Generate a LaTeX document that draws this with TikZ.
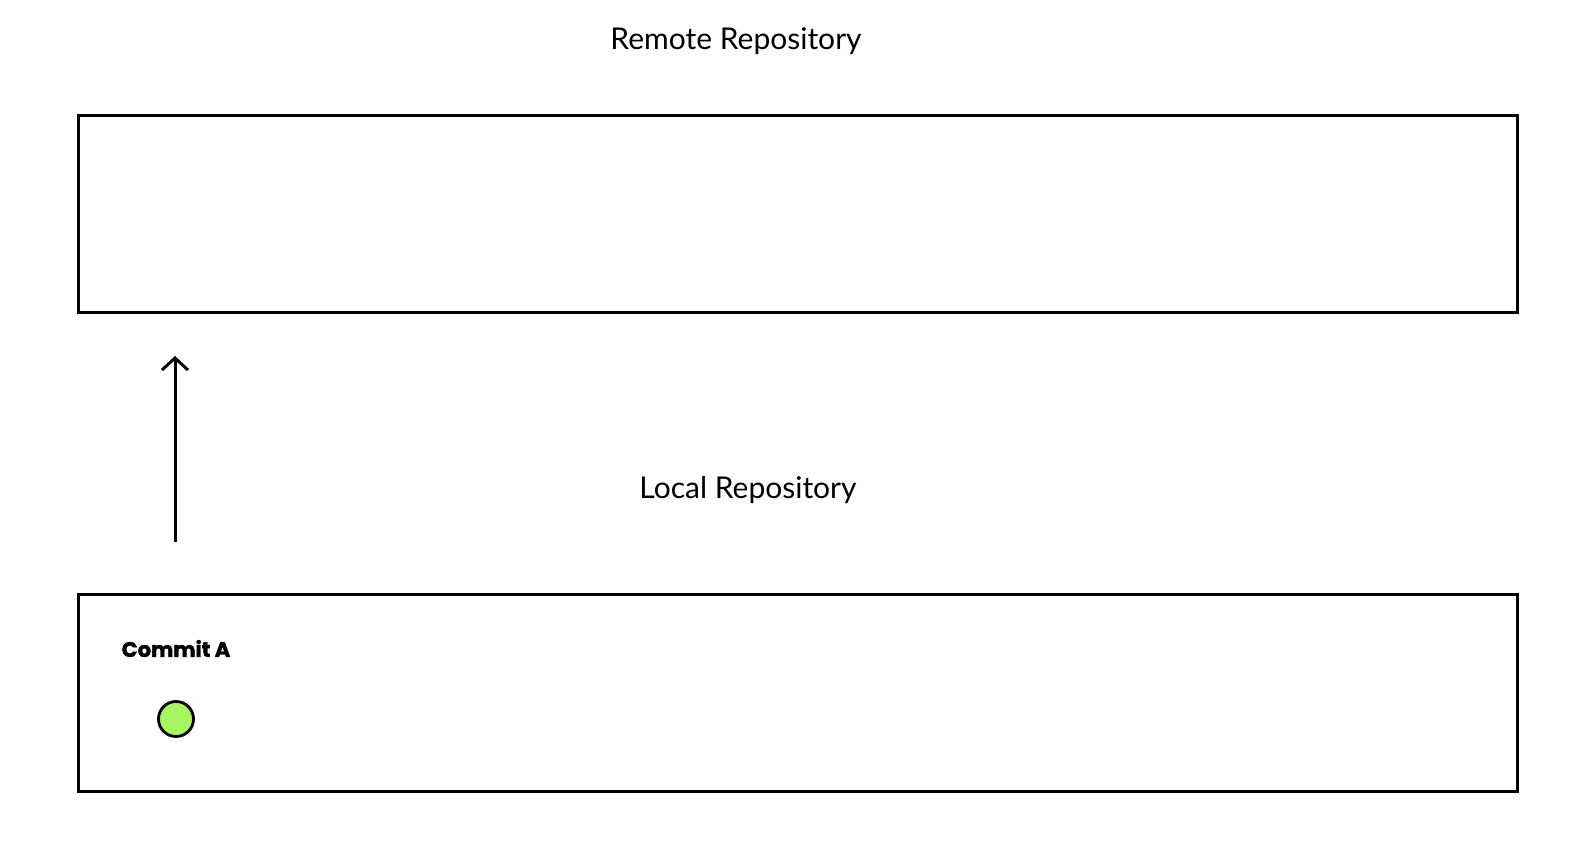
\documentclass[tikz,border=0pt]{standalone}
\usepackage{fontspec}
\setmainfont{Lato}
\newfontfamily\heavyfont[FakeBold=2]{Poppins}
\usepackage{tikz}
\usetikzlibrary{positioning,arrows.meta}

\definecolor{commitgreen}{HTML}{A8F562}

\tikzset{
	repo/.style={draw,line width=1.5pt,minimum width=719.5pt,minimum height=98.5pt,inner sep=0pt},
	title/.style={font=\fontsize{15}{18}\selectfont},
	commit/.style={circle,draw,line width=1.4pt,fill=commitgreen,minimum size=17.5pt,inner sep=0pt}
}

\begin{document}
\begin{tikzpicture}[x=0.5pt,y=-0.5pt]
\useasboundingbox (0,0) rectangle (1578,852);
\node (remote)[repo] at (797.5,213.5){};
\node (remotelabel)[title] at (736,41){Remote Repository};

\node (local)[repo] at (797.5,693){};
\node (locallabel)[title] at (748,490){Local Repository};

\node (commitA)[commit] at (176,719){};
\node (commitlabel)[above=18pt of commitA,font=\heavyfont\bfseries\fontsize{10.5}{12}\selectfont]{Commit A};

% draw the connections
\coordinate (pushfrom) at (175,542);
\coordinate (pushto) at (175,356);
\draw[line width=1.5pt,-{Straight Barb[length=6pt,width=13pt]}] (pushfrom)--(pushto);
\end{tikzpicture}
\end{document}
